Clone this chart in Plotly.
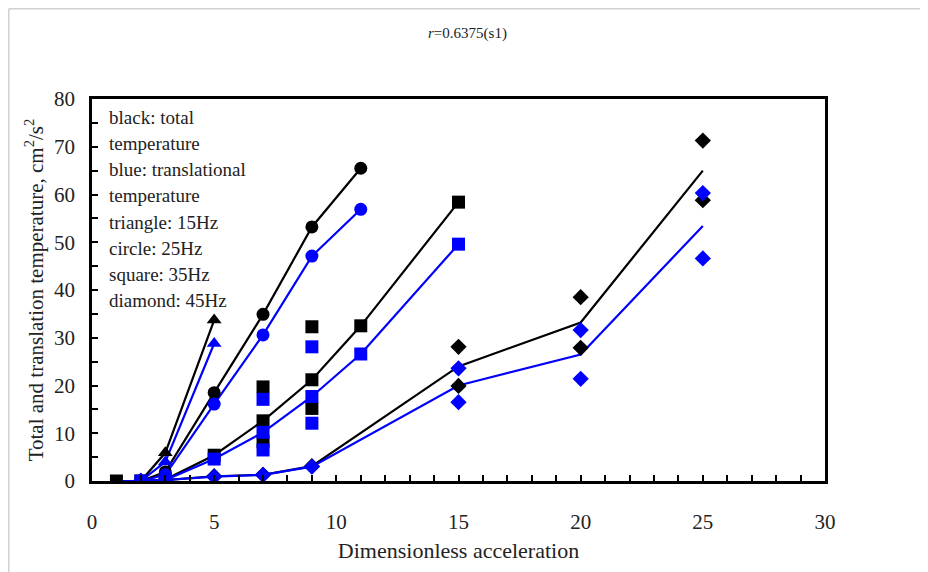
import plotly.graph_objects as go

# ---------------- data ----------------
# 15 Hz (triangle)
tri_x = [2, 3, 5]
tri_total = [0.0, 5.9, 33.7]
tri_trans = [0.0, 4.0, 28.8]

# 25 Hz (circle)
cir_x = [2, 3, 5, 7, 9, 11]
cir_total = [0.0, 1.9, 18.5, 34.9, 53.2, 65.5]
cir_trans = [0.0, 1.3, 16.1, 30.6, 47.1, 56.9]

# 35 Hz (square) - line through the middle values
sq_x = [1, 2, 3, 5, 7, 9, 11, 15]
sq_total = [0.0, 0.0, 0.3, 5.4, 12.6, 21.2, 32.5, 58.4]
sq_trans = [0.0, 0.0, 0.2, 4.6, 10.2, 17.7, 26.6, 49.6]
# extra repeated measurements (squares)
sq_extra_x = [7, 7, 9, 9]
sq_extra_total = [19.7, 8.2, 32.3, 15.2]
sq_extra_trans = [17.1, 6.5, 28.1, 12.1]

# 45 Hz (diamond) - line through means
dia_x = [2, 3, 5, 7, 9, 15, 20, 25]
dia_total = [0.0, 0.2, 1.0, 1.3, 3.1, 24.0, 33.2, 65.0]
dia_trans = [0.0, 0.2, 0.9, 1.3, 3.0, 20.0, 26.5, 53.4]
# individual diamond measurements
dia_pts_x = [2, 3, 5, 7, 9, 15, 15, 20, 20, 25, 25]
dia_pts_total = [0.0, 0.2, 1.0, 1.3, 3.1, 28.1, 19.9, 38.5, 27.9, 71.3, 58.8]
dia_pts_trans = [0.0, 0.2, 0.9, 1.3, 3.0, 23.6, 16.5, 31.6, 21.4, 60.3, 46.6]

legend_lines = [
    "black: total",
    "temperature",
    "blue: translational",
    "temperature",
    "triangle: 15Hz",
    "circle: 25Hz",
    "square: 35Hz",
    "diamond: 45Hz",
]

x_ticks = [0, 5, 10, 15, 20, 25, 30]
y_ticks = [0, 10, 20, 30, 40, 50, 60, 70, 80]

BLACK = "#000000"
BLUE = "#0000ff"
FONT = "Liberation Serif"
TXT = "#222222"

fig = go.Figure()

def add_line(x, y, color):
    fig.add_trace(go.Scatter(x=x, y=y, mode="lines",
                             line=dict(color=color, width=2.2),
                             showlegend=False, hoverinfo="skip"))

def add_pts(x, y, color, symbol, size):
    fig.add_trace(go.Scatter(x=x, y=y, mode="markers",
                             marker=dict(color=color, symbol=symbol, size=size,
                                         line=dict(width=0)),
                             showlegend=False))

# lines (black first, then blue)
add_line(dia_x, dia_total, BLACK)
add_line(sq_x, sq_total, BLACK)
add_line(cir_x, cir_total, BLACK)
add_line(tri_x, tri_total, BLACK)
add_line(dia_x, dia_trans, BLUE)
add_line(sq_x, sq_trans, BLUE)
add_line(cir_x, cir_trans, BLUE)
add_line(tri_x, tri_trans, BLUE)

# markers
add_pts(dia_pts_x, dia_pts_total, BLACK, "diamond", 12.5)
add_pts(sq_x, sq_total, BLACK, "square", 13)
add_pts(sq_extra_x, sq_extra_total, BLACK, "square", 13)
add_pts(cir_x[1:], cir_total[1:], BLACK, "circle", 13)
add_pts(tri_x[1:], tri_total[1:], BLACK, "triangle-up", 13)
add_pts(dia_pts_x, dia_pts_trans, BLUE, "diamond", 12.5)
add_pts(sq_x[1:], sq_trans[1:], BLUE, "square", 13)
add_pts(sq_extra_x, sq_extra_trans, BLUE, "square", 13)
add_pts(cir_x[1:], cir_trans[1:], BLUE, "circle", 13)
add_pts(tri_x[1:], tri_trans[1:], BLUE, "triangle-up", 13)

# in-plot legend text
ann = []
for i, t in enumerate(legend_lines):
    ann.append(dict(text=t, xref="paper", yref="paper",
                    x=0.021, y=0.952 - i * 0.0685,
                    xanchor="left", yanchor="middle", showarrow=False,
                    font=dict(family=FONT, size=19, color=TXT)))
ann.append(dict(text="<i>r</i>=0.6375(s1)", xref="paper", yref="paper",
                x=0.512, y=1.172, xanchor="center", yanchor="middle",
                showarrow=False, font=dict(family=FONT, size=15, color=TXT)))
fig.update_layout(annotations=ann)

fig.update_xaxes(range=[0, 30], tickvals=x_ticks, ticks="inside", ticklen=6,
                 tickwidth=1.5, tickcolor="black",
                 minor=dict(dtick=1, ticks="inside", ticklen=6, tickwidth=1.5,
                            tickcolor="black"),
                 showline=True, linecolor="black", linewidth=2.5, mirror=True,
                 showgrid=False, zeroline=False,
                 ticklabelstandoff=20,
                 tickfont=dict(family=FONT, size=21, color=TXT),
                 title=dict(text="Dimensionless acceleration", standoff=10,
                            font=dict(family=FONT, size=22, color=TXT)))
fig.update_yaxes(range=[0, 80], tickvals=y_ticks, ticks="inside", ticklen=6,
                 tickwidth=1.5, tickcolor="black",
                 minor=dict(dtick=5, ticks="inside", ticklen=6, tickwidth=1.5,
                            tickcolor="black"),
                 showline=True, linecolor="black", linewidth=2.5, mirror=True,
                 showgrid=False, zeroline=False,
                 ticklabelstandoff=10,
                 tickfont=dict(family=FONT, size=21, color=TXT),
                 title=dict(text="Total and translation temperature, cm<sup>2</sup>/s<sup>2</sup>",
                            standoff=5,
                            font=dict(family=FONT, size=21, color=TXT)))

# light gray outer frame (left and top edges)
fig.add_shape(type="line", xref="paper", yref="paper",
              x0=-0.1135, x1=-0.1135, y0=1.236, y1=-0.25,
              line=dict(color="#d0d0d0", width=1.5))
fig.add_shape(type="line", xref="paper", yref="paper",
              x0=-0.1135, x1=1.2, y0=1.236, y1=1.236,
              line=dict(color="#d0d0d0", width=1.5))

fig.update_layout(width=920, height=564,
                  margin=dict(l=84, r=103, t=91, b=91),
                  plot_bgcolor="white", paper_bgcolor="white",
                  showlegend=False)

fig.write_html("out.html")
